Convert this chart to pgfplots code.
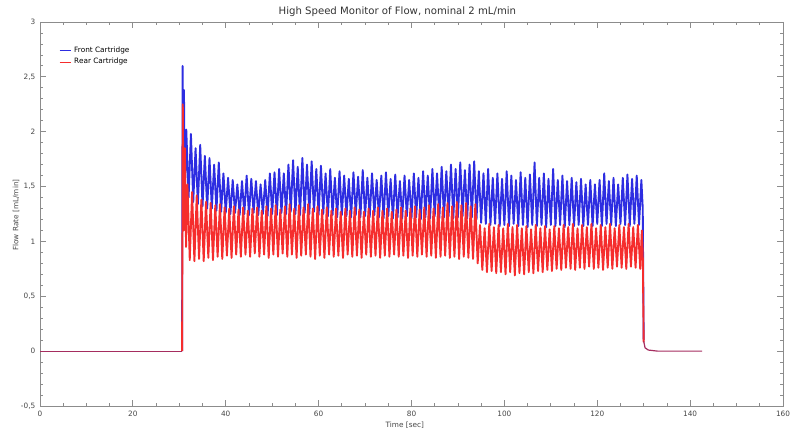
\documentclass[border=0pt]{standalone}
\usepackage{pgfplots}
\pgfplotsset{compat=1.18}
\usepackage{fontspec}
\setmainfont{DejaVu Sans}
\definecolor{frontblue}{RGB}{45,45,225}
\definecolor{rearred}{RGB}{245,45,45}
\definecolor{basepurple}{RGB}{165,45,95}
\definecolor{axgray}{RGB}{140,140,140}
\definecolor{txtgray}{RGB}{70,70,70}
\begin{document}
\begin{tikzpicture}
\useasboundingbox (-30pt,-21pt) rectangle (570pt,304.5pt);
\begin{axis}[
  scale only axis,
  width=557.25pt, height=288pt,
  xmin=0, xmax=160, ymin=-0.5, ymax=3,
  xtick={0,20,...,160}, ytick={-0.5,0,...,3},
  minor x tick num=3, minor y tick num=4,
  tick align=inside,
  major tick length=4.5pt, minor tick length=2.5pt,
  axis line style={axgray},
  every tick/.style={axgray, line width=0.6pt},
  tick label style={font=\fontsize{5.5}{6}\selectfont, text=txtgray},
  /pgf/number format/assume math mode=true,
  /pgf/number format/use comma,
  title={High Speed Monitor of Flow, nominal 2 mL/min},
  every axis title/.style={font=\fontsize{7.6}{9}\selectfont, text=black!80,
    at={(axis description cs:0.481,1)}, anchor=base, inner sep=0pt, yshift=5.5pt},
  xlabel={Time [sec]},
  ylabel={Flow Rate [mL/min]},
  xlabel style={font=\fontsize{5.5}{6}\selectfont, text=txtgray,
    at={(axis description cs:0.491,-0.05)}, anchor=center},
  ylabel style={font=\fontsize{5.5}{6}\selectfont, text=txtgray,
    at={(axis description cs:-0.0323,0.497)}, anchor=center},
  legend style={draw=none, fill=none, at={(axis description cs:0.02,0.95)},
    anchor=north west, font=\fontsize{5.5}{6}\selectfont, row sep=-1pt},
  legend cell align=left,
  legend image code/.code={\draw[#1, line width=0.8pt] (0cm,0cm) -- (0.3cm,0cm);},
]
\addplot[frontblue, line width=1.4pt, line join=round] coordinates {
(30.6,0) (30.7,2.6) (30.85,1.75) (31.0,2.38) (31.2,1.45)
(31.5,2.02) (32.0,1.40) (32.5,1.98) (33.0,1.36) (33.5,1.85) (34.0,1.34) (34.5,1.88) (35.0,1.32)
(35.5,1.78) (36.0,1.30) (36.5,1.76) (37.0,1.30) (37.5,1.70) (38.0,1.28) (38.5,1.72) (39.0,1.27)
(39.5,1.62) (40.0,1.26) (40.5,1.58) (41.0,1.25) (41.5,1.56) (42.0,1.26) (42.5,1.52) (43.0,1.24)
(43.5,1.55) (44.0,1.25) (44.5,1.60) (45.0,1.24) (45.5,1.57) (46.0,1.26) (46.5,1.55) (47.0,1.24)
(47.5,1.52) (48.0,1.25) (48.5,1.56) (49.0,1.23) (49.5,1.62) (50.0,1.25) (50.5,1.63) (51.0,1.24)
(51.5,1.66) (52.0,1.26) (52.5,1.62) (53.0,1.25) (53.5,1.70) (54.0,1.27) (54.5,1.74) (55.0,1.25)
(55.5,1.68) (56.0,1.24) (56.5,1.76) (57.0,1.26) (57.5,1.70) (58.0,1.25) (58.5,1.73) (59.0,1.27)
(59.5,1.66) (60.0,1.24) (60.5,1.69) (61.0,1.25) (61.5,1.62) (62.0,1.23) (62.5,1.66) (63.0,1.24)
(63.5,1.58) (64.0,1.22) (64.5,1.64) (65.0,1.24) (65.5,1.60) (66.0,1.23) (66.5,1.57) (67.0,1.22)
(67.5,1.63) (68.0,1.24) (68.5,1.59) (69.0,1.22) (69.5,1.65) (70.0,1.23) (70.5,1.58) (71.0,1.22)
(71.5,1.62) (72.0,1.24) (72.5,1.56) (73.0,1.22) (73.5,1.60) (74.0,1.21) (74.5,1.63) (75.0,1.23)
(75.5,1.57) (76.0,1.21) (76.5,1.61) (77.0,1.22) (77.5,1.55) (78.0,1.21) (78.5,1.60) (79.0,1.23)
(79.5,1.56) (80.0,1.21) (80.5,1.62) (81.0,1.22) (81.5,1.58) (82.0,1.20) (82.5,1.64) (83.0,1.22)
(83.5,1.60) (84.0,1.21) (84.5,1.66) (85.0,1.23) (85.5,1.62) (86.0,1.21) (86.5,1.68) (87.0,1.22)
(87.5,1.64) (88.0,1.23) (88.5,1.70) (89.0,1.21) (89.5,1.66) (90.0,1.22) (90.5,1.72) (91.0,1.23)
(91.5,1.65) (92.0,1.21) (92.5,1.70) (93.0,1.22) (93.5,1.73) (94.0,1.20) (94.5,1.64) (95.0,1.17)
(95.5,1.62) (96.0,1.16) (96.5,1.66) (97.0,1.15) (97.5,1.58) (98.0,1.16) (98.5,1.62) (99.0,1.14)
(99.5,1.57) (100.0,1.15) (100.5,1.64) (101.0,1.14) (101.5,1.60) (102.0,1.16) (102.5,1.56) (103.0,1.14)
(103.5,1.63) (104.0,1.15) (104.5,1.58) (105.0,1.13) (105.5,1.61) (106.0,1.15) (106.5,1.72) (107.0,1.14)
(107.5,1.58) (108.0,1.15) (108.5,1.62) (109.0,1.13) (109.5,1.57) (110.0,1.15) (110.5,1.66) (111.0,1.14)
(111.5,1.56) (112.0,1.15) (112.5,1.60) (113.0,1.13) (113.5,1.55) (114.0,1.15) (114.5,1.58) (115.0,1.14)
(115.5,1.54) (116.0,1.15) (116.5,1.57) (117.0,1.14) (117.5,1.52) (118.0,1.15) (118.5,1.56) (119.0,1.14)
(119.5,1.52) (120.0,1.16) (120.5,1.56) (121.0,1.14) (121.5,1.62) (122.0,1.16) (122.5,1.55) (123.0,1.15)
(123.5,1.58) (124.0,1.14) (124.5,1.52) (125.0,1.16) (125.5,1.58) (126.0,1.15) (126.5,1.61) (127.0,1.14)
(127.5,1.57) (128.0,1.16) (128.5,1.60) (129.0,1.15) (129.5,1.56) (129.8,1.30) (130.0,0.10)
};
\addlegendentry{Front Cartridge}
\addplot[rearred, line width=1.4pt, line join=round] coordinates {
(30.6,0) (30.75,2.25) (30.95,1.10) (31.2,1.85) (31.45,0.95)
(31.75,1.52) (32.25,0.83) (32.75,1.45) (33.25,0.82) (33.75,1.42) (34.25,0.84) (34.75,1.38) (35.25,0.82)
(35.75,1.36) (36.25,0.85) (36.75,1.35) (37.25,0.83) (37.75,1.33) (38.25,0.86) (38.75,1.34) (39.25,0.84)
(39.75,1.31) (40.25,0.87) (40.75,1.30) (41.25,0.85) (41.75,1.32) (42.25,0.88) (42.75,1.29) (43.25,0.86)
(43.75,1.31) (44.25,0.88) (44.75,1.28) (45.25,0.86) (45.75,1.30) (46.25,0.89) (46.75,1.31) (47.25,0.86)
(47.75,1.28) (48.25,0.88) (48.75,1.32) (49.25,0.85) (49.75,1.30) (50.25,0.88) (50.75,1.33) (51.25,0.86)
(51.75,1.29) (52.25,0.89) (52.75,1.32) (53.25,0.86) (53.75,1.34) (54.25,0.88) (54.75,1.30) (55.25,0.85)
(55.75,1.33) (56.25,0.87) (56.75,1.31) (57.25,0.88) (57.75,1.34) (58.25,0.86) (58.75,1.30) (59.25,0.84)
(59.75,1.32) (60.25,0.87) (60.75,1.29) (61.25,0.85) (61.75,1.31) (62.25,0.88) (62.75,1.28) (63.25,0.86)
(63.75,1.30) (64.25,0.87) (64.75,1.27) (65.25,0.85) (65.75,1.30) (66.25,0.88) (66.75,1.28) (67.25,0.86)
(67.75,1.31) (68.25,0.87) (68.75,1.29) (69.25,0.85) (69.75,1.27) (70.25,0.88) (70.75,1.30) (71.25,0.86)
(71.75,1.28) (72.25,0.87) (72.75,1.31) (73.25,0.85) (73.75,1.28) (74.25,0.87) (74.75,1.30) (75.25,0.86)
(75.75,1.27) (76.25,0.88) (76.75,1.29) (77.25,0.86) (77.75,1.31) (78.25,0.87) (78.75,1.28) (79.25,0.85)
(79.75,1.30) (80.25,0.87) (80.75,1.32) (81.25,0.86) (81.75,1.29) (82.25,0.88) (82.75,1.31) (83.25,0.86)
(83.75,1.33) (84.25,0.87) (84.75,1.30) (85.25,0.85) (85.75,1.34) (86.25,0.86) (86.75,1.31) (87.25,0.87)
(87.75,1.35) (88.25,0.85) (88.75,1.32) (89.25,0.86) (89.75,1.36) (90.25,0.84) (90.75,1.33) (91.25,0.86)
(91.75,1.35) (92.25,0.85) (92.75,1.32) (93.25,0.84) (93.75,1.34) (94.25,0.80) (94.75,1.15) (95.25,0.74)
(95.75,1.12) (96.25,0.72) (96.75,1.16) (97.25,0.73) (97.75,1.13) (98.25,0.71) (98.75,1.15) (99.25,0.72)
(99.75,1.12) (100.25,0.70) (100.75,1.16) (101.25,0.72) (101.75,1.13) (102.25,0.69) (102.75,1.15) (103.25,0.71)
(103.75,1.12) (104.25,0.70) (104.75,1.14) (105.25,0.72) (105.75,1.11) (106.25,0.71) (106.75,1.15) (107.25,0.73)
(107.75,1.12) (108.25,0.72) (108.75,1.14) (109.25,0.74) (109.75,1.11) (110.25,0.73) (110.75,1.14) (111.25,0.75)
(111.75,1.12) (112.25,0.74) (112.75,1.15) (113.25,0.76) (113.75,1.13) (114.25,0.75) (114.75,1.16) (115.25,0.74)
(115.75,1.12) (116.25,0.76) (116.75,1.15) (117.25,0.75) (117.75,1.13) (118.25,0.77) (118.75,1.16) (119.25,0.75)
(119.75,1.12) (120.25,0.76) (120.75,1.15) (121.25,0.74) (121.75,1.13) (122.25,0.76) (122.75,1.16) (123.25,0.75)
(123.75,1.12) (124.25,0.77) (124.75,1.15) (125.25,0.76) (125.75,1.13) (126.25,0.75) (126.75,1.16) (127.25,0.77)
(127.75,1.13) (128.25,0.76) (128.75,1.15) (129.25,0.75) (129.6,1.10) (129.8,0.90) (130.0,0.08)
};
\addlegendentry{Rear Cartridge}
% flat segments before and after the run, where both traces overlap
\addplot[basepurple, line width=0.9pt, forget plot] coordinates {
(0,0) (10,0) (20,0) (30.6,0)
};
\addplot[basepurple, line width=0.9pt, forget plot] coordinates {
(130.0,0.09) (130.3,0.03) (131.0,0.01) (133,0) (142.6,0)
};
\end{axis}
\end{tikzpicture}
\end{document}
